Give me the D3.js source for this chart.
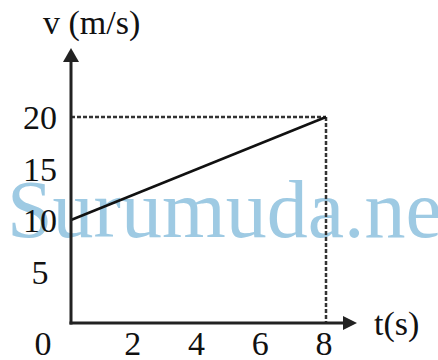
<!DOCTYPE html>
<html>
<head>
<meta charset="utf-8">
<script src="https://cdn.jsdelivr.net/npm/d3@7"></script>
<style>
  html, body { margin: 0; padding: 0; background: #fff; }
  svg { display: block; font-family: "Liberation Serif", "DejaVu Serif", serif; }
</style>
</head>
<body>
<svg id="chart" width="438" height="360"></svg>
<script>
// data
const times = [0, 8];
const velocities = [10, 20];
const xTicks = [2, 4, 6, 8];
const yTicks = [5, 10, 15, 20];
const yLabel = "v (m/s)";
const xLabel = "t(s)";
const watermark = "Surumuda.net";

const svg = d3.select("#chart");
const x = d3.scaleLinear().domain([0, 8]).range([71, 326]);
const y = d3.scaleLinear().domain([0, 20]).range([323, 117]);
const ink = "#222";

// watermark sits behind everything
svg.append("text")
  .attr("x", 7).attr("y", 237)
  .attr("font-size", 82)
  .attr("fill", "#9ecae3")
  .text(watermark);

// dotted guides to the end point
const tEnd = times[times.length - 1], vEnd = velocities[velocities.length - 1];
const guide = sel => sel.attr("stroke", "#333").attr("stroke-width", 2.5).attr("stroke-dasharray", "4,2");
svg.append("line")
  .attr("x1", x(0)).attr("x2", x(tEnd))
  .attr("y1", y(vEnd)).attr("y2", y(vEnd))
  .call(guide);
svg.append("line")
  .attr("x1", x(tEnd)).attr("x2", x(tEnd))
  .attr("y1", y(vEnd)).attr("y2", y(0))
  .call(guide);

// the v(t) line
const pts = times.map((t, i) => [t, velocities[i]]);
svg.append("path")
  .attr("d", d3.line().x(d => x(d[0])).y(d => y(d[1]))(pts))
  .attr("fill", "none").attr("stroke", "#111").attr("stroke-width", 2.5);

// axes with arrow heads
svg.append("line")
  .attr("x1", x(0)).attr("x2", x(0)).attr("y1", y(0) + 1.5).attr("y2", 58)
  .attr("stroke", ink).attr("stroke-width", 3);
svg.append("line")
  .attr("x1", x(0) - 1.5).attr("x2", 347).attr("y1", y(0)).attr("y2", y(0))
  .attr("stroke", ink).attr("stroke-width", 3);
svg.append("path")
  .attr("d", `M${x(0)},48 L${x(0) - 8},62 L${x(0) + 8},62 Z`)
  .attr("fill", ink);
svg.append("path")
  .attr("d", `M357,${y(0)} L343,${y(0) - 7} L343,${y(0) + 7} Z`)
  .attr("fill", ink);

// tick labels
svg.append("g").selectAll("text")
  .data(yTicks).enter().append("text")
  .attr("x", 40).attr("y", d => y(d) + 12)
  .attr("text-anchor", "middle")
  .attr("font-size", 34).attr("fill", "#111")
  .text(d => d);

svg.append("g").selectAll("text")
  .data(xTicks).enter().append("text")
  .attr("x", d => x(d) - 2).attr("y", 355)
  .attr("text-anchor", "middle")
  .attr("font-size", 34).attr("fill", "#111")
  .text(d => d);

svg.append("text")
  .attr("x", 43).attr("y", 355)
  .attr("text-anchor", "middle")
  .attr("font-size", 34).attr("fill", "#111")
  .text("0");

// axis titles
svg.append("text")
  .attr("x", 43).attr("y", 34)
  .attr("font-size", 34).attr("fill", "#111")
  .text(yLabel);
svg.append("text")
  .attr("x", 374).attr("y", 335)
  .attr("font-size", 34).attr("fill", "#111")
  .text(xLabel);
</script>
</body>
</html>
